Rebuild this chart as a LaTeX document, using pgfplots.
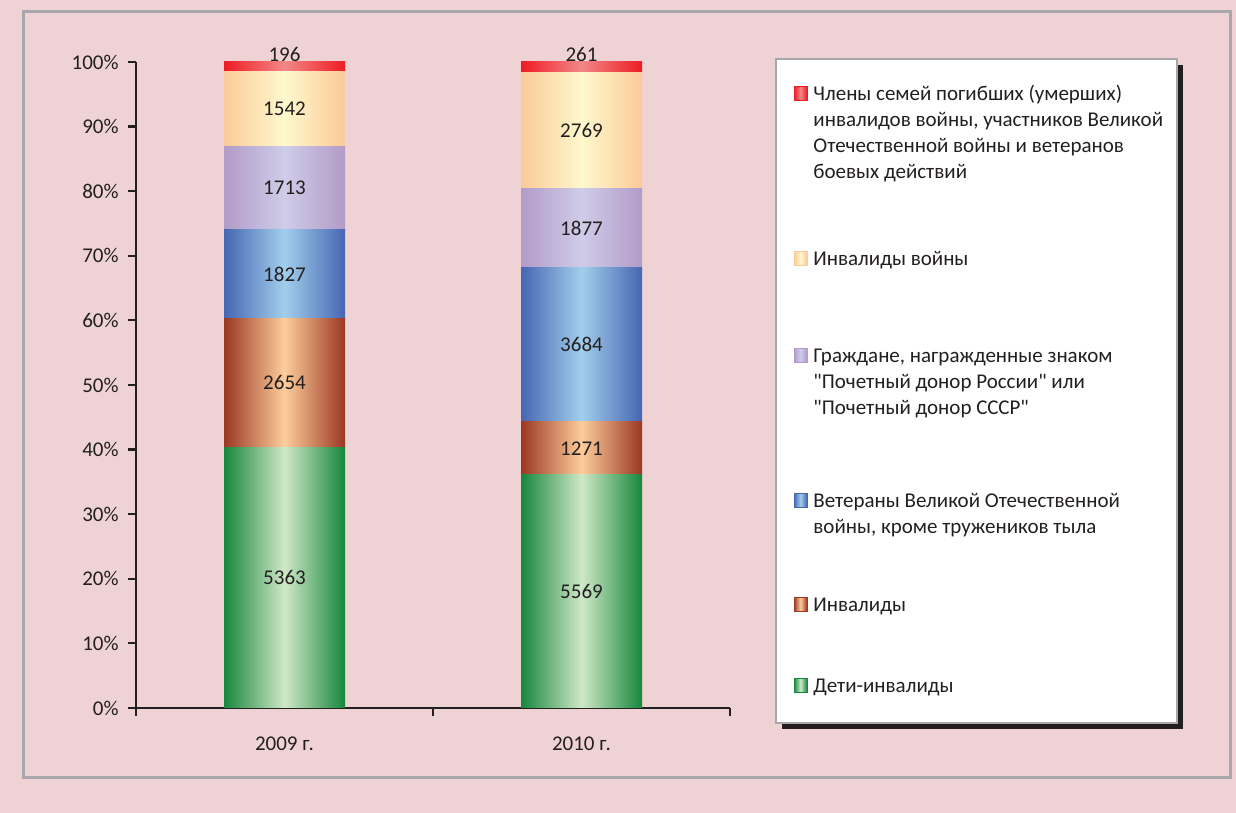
\documentclass[border=0pt]{standalone}
\usepackage{pgfplots}
\pgfplotsset{compat=1.18}
\usepackage{pgfplotstable}
\usepackage{fontspec}
\setmainfont{Carlito}

\definecolor{bgpink}{RGB}{239,211,212}
\definecolor{framegray}{RGB}{168,168,172}
\definecolor{axdark}{RGB}{35,31,32}
\definecolor{gE}{RGB}{22,135,60}\definecolor{gC}{RGB}{208,232,200}
\definecolor{bE}{RGB}{155,55,35}\definecolor{bC}{RGB}{253,205,155}
\definecolor{uE}{RGB}{70,102,178}\definecolor{uC}{RGB}{162,206,236}
\definecolor{pE}{RGB}{178,155,200}\definecolor{pC}{RGB}{207,204,232}
\definecolor{yE}{RGB}{251,202,152}\definecolor{yC}{RGB}{254,248,205}
\definecolor{rE}{RGB}{237,28,36}\definecolor{rC}{RGB}{243,135,135}

% x, count, total per year
\pgfplotstableread{
x c t
0 5363 13295
1 5569 15431
}\deti
\pgfplotstableread{
x c t
0 2654 13295
1 1271 15431
}\invalid
\pgfplotstableread{
x c t
0 1827 13295
1 3684 15431
}\veter
\pgfplotstableread{
x c t
0 1713 13295
1 1877 15431
}\donor
\pgfplotstableread{
x c t
0 1542 13295
1 2769 15431
}\invwar
\pgfplotstableread{
x c t
0 196 13295
1 261 15431
}\family

\pgfplotsset{
  common/.style={
    at={(68pt,52.5pt)}, anchor=south west,
    scale only axis, width=297pt, height=323pt,
    font=\fontsize{10.5}{13}\selectfont,
    ybar stacked, bar width=60.5pt,
    xmin=-0.5, xmax=1.5, ymin=0, ymax=100,
    clip=false,
    point meta=explicit symbolic,
    nodes near coords,
    every node near coord/.append style={text=axdark, font=\fontsize{10.5}{13}\selectfont},
  },
  cent/.style={every node near coord/.append style={anchor=center}},
  seg/.style n args={2}{draw=none, left color=#1, right color=#1, middle color=#2},
}

\newcommand\bars{%
\addplot[seg={gE}{gC}, cent] table[x=x, y expr=\thisrow{c}/\thisrow{t}*100, meta=c] {\deti};
\addplot[seg={bE}{bC}, cent] table[x=x, y expr=\thisrow{c}/\thisrow{t}*100, meta=c] {\invalid};
\addplot[seg={uE}{uC}, cent] table[x=x, y expr=\thisrow{c}/\thisrow{t}*100, meta=c] {\veter};
\addplot[seg={pE}{pC}, cent] table[x=x, y expr=\thisrow{c}/\thisrow{t}*100, meta=c] {\donor};
\addplot[seg={yE}{yC}, cent] table[x=x, y expr=\thisrow{c}/\thisrow{t}*100, meta=c] {\invwar};
\addplot[seg={rE}{rC}, every node near coord/.append style={anchor=south, yshift=-1pt}]
  table[x=x, y expr=\thisrow{c}/\thisrow{t}*100, meta=c] {\family};
}

\newcommand\legitem[4]{% edge, centre, baseline y (pt), text
  \path[left color=#1, right color=#1, middle color=#2, draw=#1, line width=0.5pt]
    (397pt,#3+0.3pt) rectangle (403.5pt,#3+7pt);
  \node[anchor=base west, inner sep=0pt, text=axdark] at (406.5pt,#3)
    {\parbox[t]{180pt}{\raggedright #4}};
}

\begin{document}
\fontsize{10.5}{13}\selectfont
\begin{tikzpicture}
\fill[bgpink] (0,0) rectangle (618pt,406.5pt);
\draw[framegray,line width=1.5pt] (11.5pt,400.5pt) rectangle (615pt,17.5pt);
% 2009
\begin{axis}[common,
  restrict x to domain=-0.4:0.4,
  axis x line=bottom, axis y line=left,
  axis line style={axdark,line width=1.25pt,-},
  xtick={0,1}, xticklabels={2009 г.,2010 г.},
  major x tick style={draw=none},
  minor xtick={-0.5,0.5,1.5},
  minor x tick style={axdark,line width=1.1pt},
  minor tick length=4pt,
  xticklabel style={yshift=-6.5pt, text=axdark},
  ytick={0,10,...,100},
  yticklabel={\pgfmathprintnumber{\tick}\%},
  yticklabel style={text=axdark, xshift=-1pt},
  y tick style={axdark,line width=1.1pt},
  tick align=outside, major tick length=4pt,
  /pgf/number format/assume math mode=true,
]
\bars
\end{axis}
% 2010
\begin{axis}[common, hide axis, restrict x to domain=0.6:1.4]
\bars
\end{axis}
% legend
\fill[axdark] (391pt,374pt) rectangle (591.5pt,42pt);
\draw[framegray, line width=0.8pt, fill=white] (388pt,377pt) rectangle (588.5pt,45pt);
\legitem{rE}{rC}{356pt}{Члены семей погибших (умерших)\\инвалидов войны, участников Великой\\Отечественной войны и ветеранов\\боевых действий}
\legitem{yE}{yC}{273.5pt}{Инвалиды войны}
\legitem{pE}{pC}{225pt}{Граждане, награжденные знаком\\\textquotedbl Почетный донор России\textquotedbl{} или\\\textquotedbl Почетный донор СССР\textquotedbl}
\legitem{uE}{uC}{152.5pt}{Ветераны Великой Отечественной\\войны, кроме тружеников тыла}
\legitem{bE}{bC}{100.5pt}{Инвалиды}
\legitem{gE}{gC}{60pt}{Дети-инвалиды}
\end{tikzpicture}
\end{document}
